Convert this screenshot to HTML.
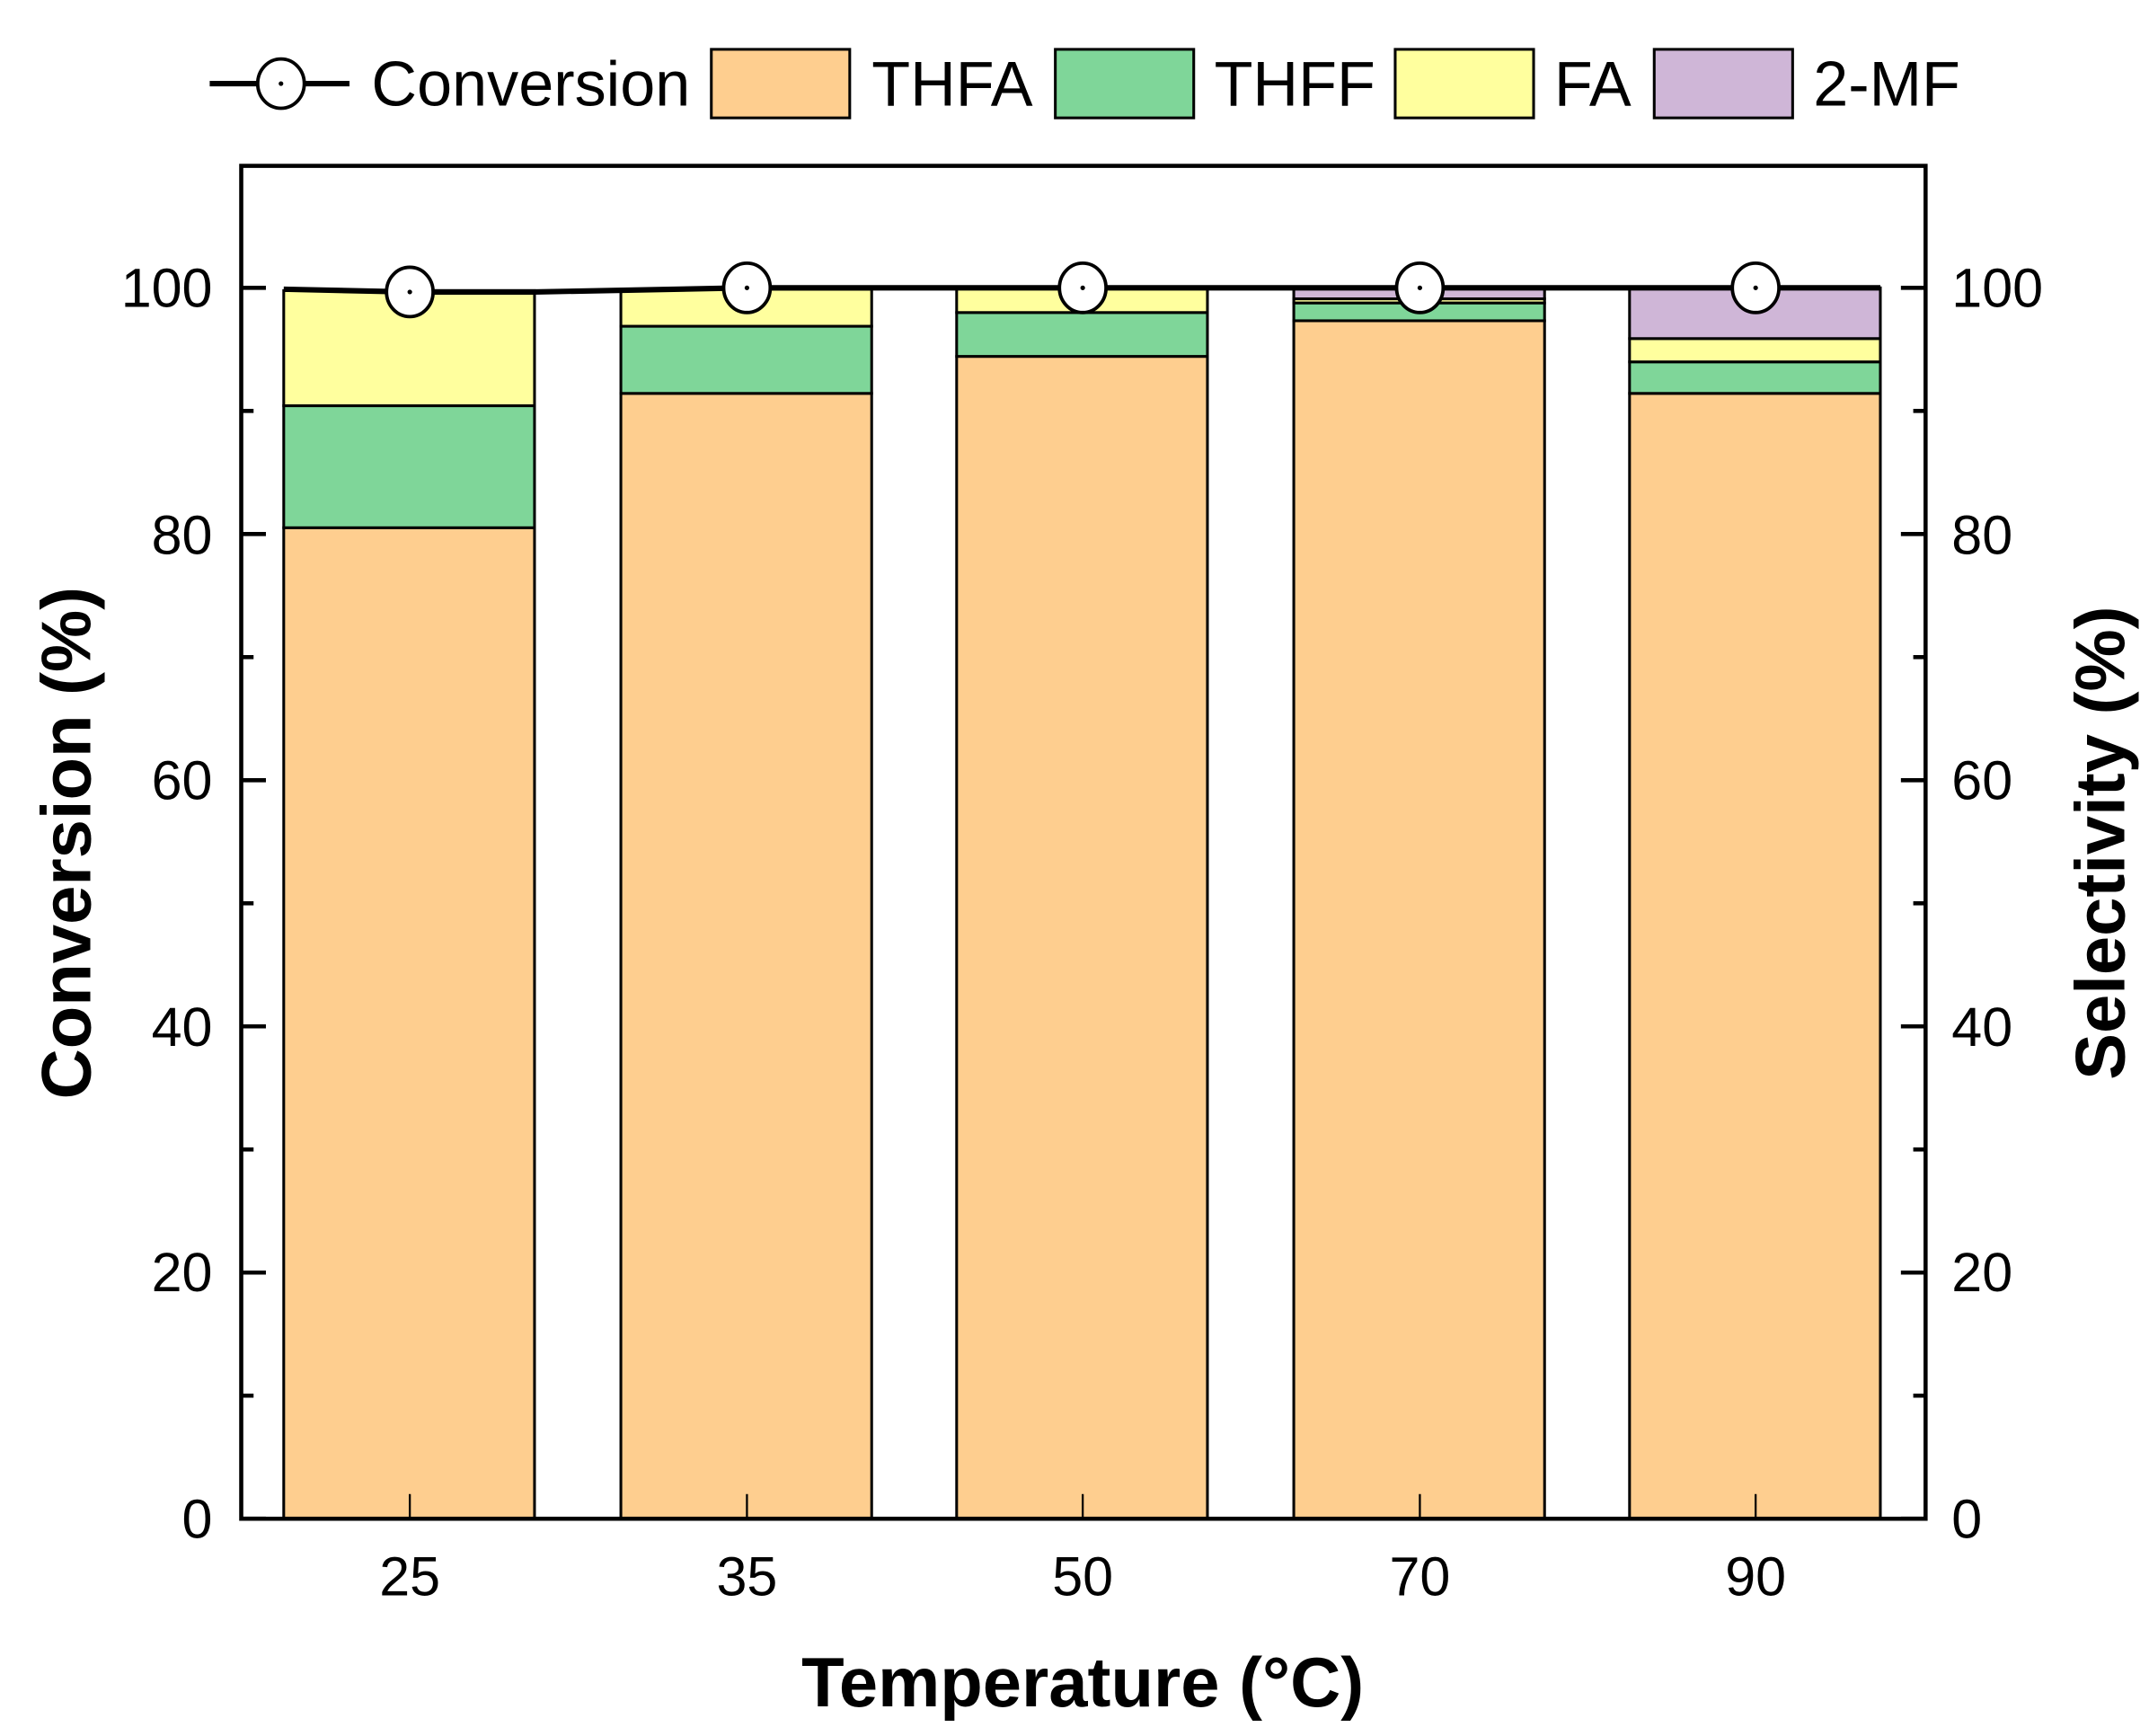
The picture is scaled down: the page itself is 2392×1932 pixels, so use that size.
<!DOCTYPE html>
<html><head><meta charset="utf-8"><style>html,body{margin:0;padding:0;background:#fff}svg{display:block}</style></head>
<body>
<svg width="2392" height="1932" viewBox="0 0 1568 1266.5" xmlns="http://www.w3.org/2000/svg" font-family="Liberation Sans, Arial, sans-serif">
<rect width="1568" height="1266.5" fill="#fff"/>
<g stroke="#000" stroke-width="2">
<rect x="207" y="385" width="183" height="723" fill="#FECE8F"/>
<rect x="207" y="296" width="183" height="89" fill="#7FD699"/>
<rect x="207" y="212" width="183" height="84" fill="#FFFF9E"/>
<rect x="453" y="287" width="183" height="821" fill="#FECE8F"/>
<rect x="453" y="238" width="183" height="49" fill="#7FD699"/>
<rect x="453" y="211" width="183" height="27" fill="#FFFF9E"/>
<rect x="698" y="260" width="183" height="848" fill="#FECE8F"/>
<rect x="698" y="228" width="183" height="32" fill="#7FD699"/>
<rect x="698" y="210" width="183" height="18" fill="#FFFF9E"/>
<rect x="944" y="234" width="183" height="874" fill="#FECE8F"/>
<rect x="944" y="221" width="183" height="13" fill="#7FD699"/>
<rect x="944" y="218" width="183" height="3" fill="#FFFF9E"/>
<rect x="944" y="210" width="183" height="8" fill="#CFB6D7"/>
<rect x="1189" y="287" width="183" height="821" fill="#FECE8F"/>
<rect x="1189" y="264" width="183" height="23" fill="#7FD699"/>
<rect x="1189" y="247" width="183" height="17" fill="#FFFF9E"/>
<rect x="1189" y="210" width="183" height="37" fill="#CFB6D7"/>
</g>
<polyline points="207,211 299,213 390,213 545,210 790,210 1036,210 1372,210" fill="none" stroke="#000" stroke-width="4"/>
<g fill="#fff" stroke="#000" stroke-width="2.5">
<ellipse cx="299" cy="213" rx="17" ry="18"/><ellipse cx="545" cy="210" rx="17" ry="18"/><ellipse cx="790" cy="210" rx="17" ry="18"/><ellipse cx="1036" cy="210" rx="17" ry="18"/><ellipse cx="1281" cy="210" rx="17" ry="18"/>
</g>
<g fill="#000"><circle cx="299" cy="213" r="1.7"/><circle cx="545" cy="210" r="1.7"/><circle cx="790" cy="210" r="1.7"/><circle cx="1036" cy="210" r="1.7"/><circle cx="1281" cy="210" r="1.7"/></g>
<rect x="176" y="121" width="1229" height="987" fill="none" stroke="#000" stroke-width="3"/>
<g stroke="#000" stroke-width="3">
<line x1="176" y1="1108" x2="194" y2="1108"/><line x1="176" y1="928.4" x2="194" y2="928.4"/><line x1="176" y1="748.8" x2="194" y2="748.8"/><line x1="176" y1="569.2" x2="194" y2="569.2"/><line x1="176" y1="389.6" x2="194" y2="389.6"/><line x1="176" y1="210" x2="194" y2="210"/>
<line x1="176" y1="1018.2" x2="185" y2="1018.2"/><line x1="176" y1="838.6" x2="185" y2="838.6"/><line x1="176" y1="659" x2="185" y2="659"/><line x1="176" y1="479.4" x2="185" y2="479.4"/><line x1="176" y1="299.8" x2="185" y2="299.8"/>
<line x1="1405" y1="1108" x2="1387" y2="1108"/><line x1="1405" y1="928.4" x2="1387" y2="928.4"/><line x1="1405" y1="748.8" x2="1387" y2="748.8"/><line x1="1405" y1="569.2" x2="1387" y2="569.2"/><line x1="1405" y1="389.6" x2="1387" y2="389.6"/><line x1="1405" y1="210" x2="1387" y2="210"/>
<line x1="1405" y1="1018.2" x2="1396" y2="1018.2"/><line x1="1405" y1="838.6" x2="1396" y2="838.6"/><line x1="1405" y1="659" x2="1396" y2="659"/><line x1="1405" y1="479.4" x2="1396" y2="479.4"/><line x1="1405" y1="299.8" x2="1396" y2="299.8"/>
</g>
<g stroke="#000" stroke-width="1.5">
<line x1="299" y1="1108" x2="299" y2="1090"/><line x1="545" y1="1108" x2="545" y2="1090"/><line x1="790" y1="1108" x2="790" y2="1090"/><line x1="1036" y1="1108" x2="1036" y2="1090"/><line x1="1281" y1="1108" x2="1281" y2="1090"/>
</g>
<g font-size="40" text-anchor="end">
<text x="155" y="1122">0</text><text x="155" y="942">20</text><text x="155" y="763">40</text><text x="155" y="583">60</text><text x="155" y="404">80</text><text x="155" y="224">100</text>
</g>
<g font-size="40" text-anchor="start">
<text x="1424" y="1122">0</text><text x="1424" y="942">20</text><text x="1424" y="763">40</text><text x="1424" y="583">60</text><text x="1424" y="404">80</text><text x="1424" y="224">100</text>
</g>
<g font-size="40" text-anchor="middle">
<text x="299" y="1164">25</text><text x="545" y="1164">35</text><text x="790" y="1164">50</text><text x="1036" y="1164">70</text><text x="1281" y="1164">90</text>
</g>
<g font-size="51" font-weight="bold" text-anchor="middle">
<text x="790" y="1245">Temperature (°C)</text>
<text transform="translate(66,615) rotate(-90)">Conversion (%)</text>
<text transform="translate(1550,615) rotate(-90)">Selectivity (%)</text>
</g>
<line x1="153" y1="61" x2="255" y2="61" stroke="#000" stroke-width="4"/>
<ellipse cx="205" cy="61" rx="17" ry="18" fill="#fff" stroke="#000" stroke-width="2.5"/>
<circle cx="205" cy="61" r="1.7" fill="#000"/>
<g font-size="46">
<text x="271" y="77">Conversion</text>
<text x="636" y="77">THFA</text>
<text x="886" y="77">THFF</text>
<text x="1134" y="77">FA</text>
<text x="1323" y="77">2-MF</text>
</g>
<g stroke="#000" stroke-width="2">
<rect x="519" y="36" width="101" height="50" fill="#FECE8F"/>
<rect x="770" y="36" width="101" height="50" fill="#7FD699"/>
<rect x="1018" y="36" width="101" height="50" fill="#FFFF9E"/>
<rect x="1207" y="36" width="101" height="50" fill="#CFB6D7"/>
</g>
</svg>
</body></html>
